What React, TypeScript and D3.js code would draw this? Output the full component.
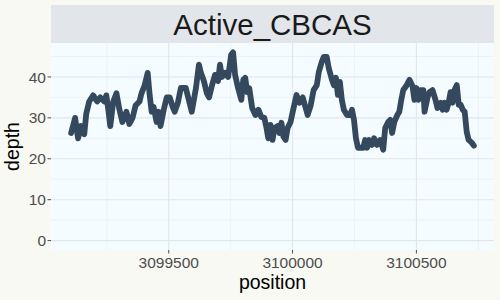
import React from "react";
import * as d3 from "d3";

const positions = [
  3099106, 3099122, 3099134, 3099146, 3099159, 3099167, 3099179, 3099195, 3099211, 3099224,
  3099240, 3099248, 3099256, 3099264, 3099276, 3099289, 3099301, 3099313, 3099329, 3099341,
  3099354, 3099366, 3099382, 3099390, 3099402, 3099415, 3099423, 3099431, 3099439, 3099451,
  3099459, 3099467, 3099480, 3099492, 3099504, 3099516, 3099524, 3099537, 3099549, 3099569,
  3099581, 3099593, 3099610, 3099622, 3099630, 3099642, 3099654, 3099663, 3099675, 3099687,
  3099699, 3099707, 3099715, 3099728, 3099740, 3099752, 3099760, 3099768, 3099780, 3099793,
  3099801, 3099809, 3099817, 3099825, 3099837, 3099850, 3099862, 3099874, 3099886, 3099894,
  3099902, 3099911, 3099919, 3099927, 3099939, 3099947, 3099955, 3099963, 3099972, 3099980,
  3099992, 3100004, 3100016, 3100028, 3100041, 3100053, 3100061, 3100073, 3100085, 3100098,
  3100106, 3100118, 3100126, 3100138, 3100146, 3100159, 3100167, 3100175, 3100183, 3100191,
  3100199, 3100207, 3100220, 3100232, 3100240, 3100248, 3100256, 3100264, 3100285, 3100293,
  3100301, 3100309, 3100321, 3100329, 3100341, 3100354, 3100366, 3100374, 3100386, 3100394,
  3100402, 3100411, 3100423, 3100431, 3100439, 3100447, 3100459, 3100472, 3100484, 3100492,
  3100500, 3100508, 3100516, 3100528, 3100533, 3100545, 3100553, 3100565, 3100577, 3100585,
  3100598, 3100606, 3100614, 3100622, 3100630, 3100638, 3100646, 3100654, 3100663, 3100671,
  3100679, 3100687, 3100695, 3100703, 3100711, 3100724, 3100732,
];

const depths = [
  26.3, 30, 25, 28, 26, 31, 34, 35.5, 34, 35,
  34, 35.5, 32, 28, 34, 36, 32, 29, 31.5, 28.5,
  30, 33, 34, 36, 37.8, 41, 35.6, 31.5, 32.7, 29,
  31.5, 28, 32, 35, 35, 32.7, 31.5, 33.7, 37.3, 37.3,
  34.4, 31.5, 37.3, 43, 41, 39, 36, 35, 38, 40.5,
  39, 43, 40, 41, 40, 45.4, 46, 40.5, 37.3, 34.4,
  39.3, 39.8, 36.3, 37.3, 32.4, 30.7, 32, 30.2, 30, 27.8,
  25, 28.3, 24.6, 27.5, 28, 26.3, 28.8, 25.4, 24.6, 27.5,
  29, 32.4, 35.6, 33.7, 35, 32.4, 30.7, 33, 36.8, 38,
  41.2, 43.7, 44.9, 44.9, 42.2, 39.3, 38, 39.8, 35.6, 38.8,
  34.4, 32, 30.7, 30.7, 32, 29.5, 25, 22.7, 22.7, 24.6,
  22.7, 24.6, 23.4, 25, 23.4, 24.6, 22.2, 27.5, 29, 29.5,
  26.3, 29, 30.7, 31.5, 34.4, 36.8, 37.8, 39.3, 37.8, 34.4,
  37.3, 34.4, 36.8, 36.8, 31.5, 35, 36.3, 36.8, 34.4, 32.4,
  33.7, 32, 33.7, 32, 33.7, 36.3, 33.7, 36.8, 38, 33.2,
  33.2, 32, 31.5, 26.6, 24.6, 23.9, 23.2,
];

const xTicks = [3099500, 3100000, 3100500];
const xMinor = [3099250, 3099750, 3100250, 3100750];
const yTicks = [0, 10, 20, 30, 40];
const yMinor = [5, 15, 25, 35, 45];
const title = "Active_CBCAS";

export default function App() {
  const W = 500, H = 300;
  const left = 51, right = 494, top = 43, bottom = 250;
  const font = "Liberation Sans, Arial, sans-serif";

  const xmin = d3.min(positions) as number;
  const xmax = d3.max(positions) as number;
  const xr = xmax - xmin;
  const x = d3.scaleLinear().domain([xmin - xr * 0.05, xmax + xr * 0.05]).range([left, right]);
  const ymax = d3.max(depths) as number;
  const y = d3.scaleLinear().domain([-ymax * 0.05, ymax * 1.05]).range([bottom, top]);

  const data = positions.map((p, i) => [p, depths[i]] as [number, number]);
  const path = d3.line<[number, number]>().x(d => x(d[0])).y(d => y(d[1]))(data) || "";

  return (
    <svg width={W} height={H} style={{ position: "absolute", left: 0, top: 0 }}>
      <rect x={0} y={0} width={W} height={H} fill="#F9F9F4" />
      <rect x={left} y={5} width={right - left} height={top - 5} fill="#E2E6EA" />
      <text x={(left + right) / 2} y={35} textAnchor="middle" fontFamily={font} fontSize={29.5} fill="#1A1A1A">{title}</text>
      <rect x={left} y={top} width={right - left} height={bottom - top} fill="#F4FCFF" />
      {yMinor.map(v => (
        <line key={"ym" + v} x1={left} x2={right} y1={y(v)} y2={y(v)} stroke="#E6ECEF" strokeWidth={0.6} />
      ))}
      {xMinor.map(v => (
        <line key={"xm" + v} x1={x(v)} x2={x(v)} y1={top} y2={bottom} stroke="#E6ECEF" strokeWidth={0.6} />
      ))}
      {yTicks.map(v => (
        <line key={"y" + v} x1={left} x2={right} y1={y(v)} y2={y(v)} stroke="#E0E6EA" strokeWidth={1.1} />
      ))}
      {xTicks.map(v => (
        <line key={"x" + v} x1={x(v)} x2={x(v)} y1={top} y2={bottom} stroke="#E0E6EA" strokeWidth={1.1} />
      ))}
      <path d={path} fill="none" stroke="#34495E" strokeWidth={5.8} strokeLinejoin="round" strokeLinecap="round" />
      {yTicks.map(v => (
        <g key={"yt" + v}>
          <line x1={left - 3.5} x2={left} y1={y(v)} y2={y(v)} stroke="#4D4D4D" strokeWidth={1} />
          <text x={left - 5} y={y(v)} dy="0.36em" textAnchor="end" fontFamily={font} fontSize={15.5} fill="#4D4D4D">{v}</text>
        </g>
      ))}
      {xTicks.map(v => (
        <g key={"xt" + v}>
          <line x1={x(v)} x2={x(v)} y1={bottom} y2={bottom + 3.5} stroke="#4D4D4D" strokeWidth={1} />
          <text x={x(v)} y={268} textAnchor="middle" fontFamily={font} fontSize={15.5} fill="#4D4D4D">{v}</text>
        </g>
      ))}
      <text x={(left + right) / 2} y={289} textAnchor="middle" fontFamily={font} fontSize={19.5} fill="#000">position</text>
      <text transform={`translate(19,${(top + bottom) / 2}) rotate(-90)`} textAnchor="middle" fontFamily={font} fontSize={19.5} fill="#000">depth</text>
    </svg>
  );
}
